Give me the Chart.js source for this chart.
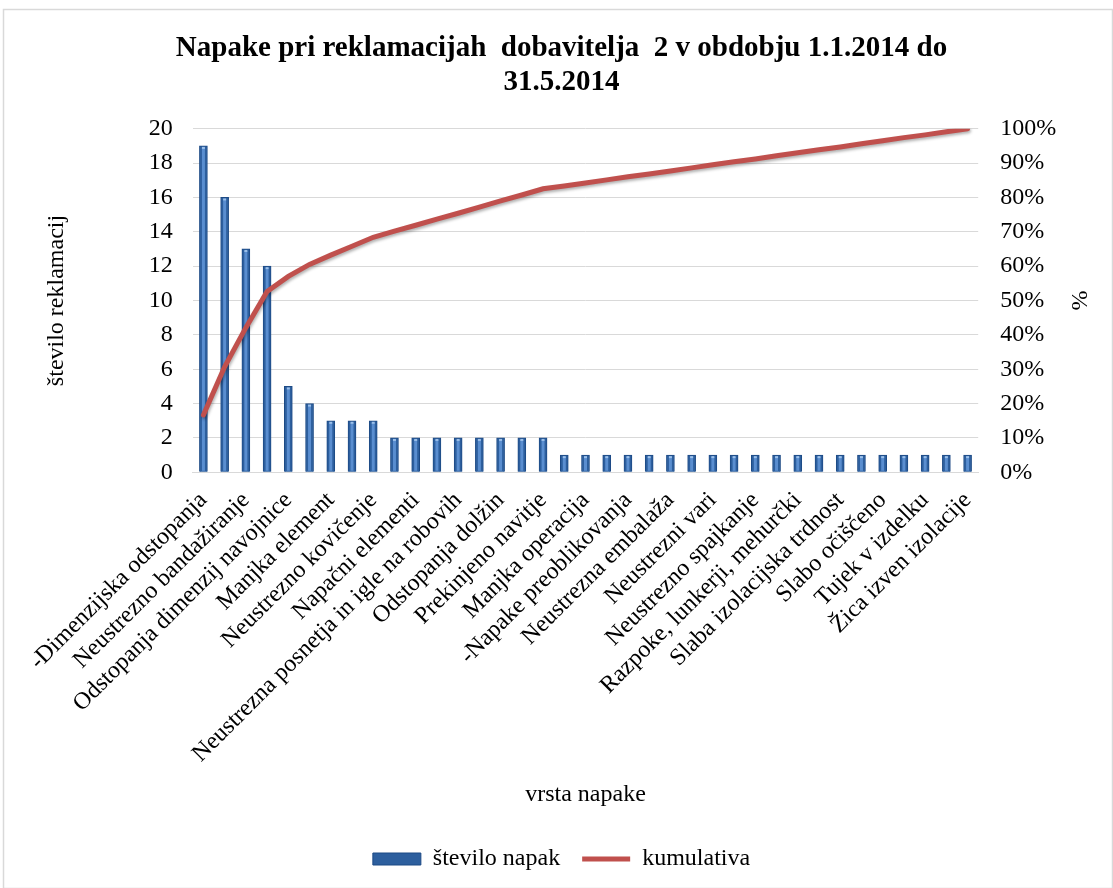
<!DOCTYPE html>
<html>
<head>
<meta charset="utf-8">
<script src="https://cdn.jsdelivr.net/npm/chart.js@4/dist/chart.umd.min.js"></script>
<style>
  body { margin: 0; background: #fff; }
  #wrap { width: 1113px; height: 888px; position: relative; }
</style>
</head>
<body>
<div id="wrap"><canvas id="myChart"></canvas></div>
<script>
// kategorije (vsaka druga oznaka je v izvirniku skrita, zato prazna)
let categories = [
  "-Dimenzijska odstopanja", "",
  "Neustrezno bandažiranje", "",
  "Odstopanja dimenzij navojnice", "",
  "Manjka element", "",
  "Neustrezno kovičenje", "",
  "Napačni elementi", "",
  "Neustrezna posnetja in igle na robovih", "",
  "Odstopanja dolžin", "",
  "Prekinjeno navitje", "",
  "Manjka operacija", "",
  "-Napake preoblikovanja", "",
  "Neustrezna embalaža", "",
  "Neustrezni vari", "",
  "Neustrezno spajkanje", "",
  "Razpoke, lunkerji, mehurčki", "",
  "Slaba izolacijska trdnost", "",
  "Slabo očiščeno", "",
  "Tujek v izdelku", "",
  "Žica izven izolacije"
]

// število napak
let steviloNapak = [19, 16, 13, 12, 5, 4, 3, 3, 3, 2, 2, 2, 2, 2, 2, 2, 2,
  1, 1, 1, 1, 1, 1, 1, 1, 1, 1, 1, 1, 1, 1, 1, 1, 1, 1, 1, 1]

// kumulativa v %
let kumulativa = [16.7, 30.7, 42.1, 52.6, 57.0, 60.5, 63.2, 65.8, 68.4, 70.2,
  71.9, 73.7, 75.4, 77.2, 79.0, 80.7, 82.5, 83.3, 84.2, 85.1, 86.0, 86.8,
  87.7, 88.6, 89.5, 90.4, 91.2, 92.1, 93.0, 93.9, 94.7, 95.6, 96.5, 97.4,
  98.2, 99.1, 100]

let titleLines = ["Napake pri reklamacijah  dobavitelja  2 v obdobju 1.1.2014 do", "31.5.2014"]

let serif = "'Liberation Serif', 'Times New Roman', serif"

// okvir okoli grafa + belo ozadje + senca pod črto + svetlejša sredina stolpcev
let framePlugin = {
  id: 'frame',
  beforeDraw(chart) {
    let ctx = chart.ctx
    ctx.save()
    ctx.fillStyle = '#fff'
    ctx.fillRect(0, 0, chart.width, chart.height)
    ctx.restore()
  },
  afterDraw(chart) {
    let ctx = chart.ctx
    ctx.save()
    ctx.strokeStyle = '#d9d9d9'
    ctx.lineWidth = 1.5
    ctx.strokeRect(3.5, 9.5, chart.width - 4, chart.height - 9)
    ctx.restore()
  },
  beforeDatasetDraw(chart, args) {
    if (args.index === 1) {
      chart.ctx.save()
      chart.ctx.shadowColor = 'rgba(0,0,0,0.3)'
      chart.ctx.shadowBlur = 3
      chart.ctx.shadowOffsetX = 1
      chart.ctx.shadowOffsetY = 2
    }
  },
  afterDatasetDraw(chart, args) {
    let ctx = chart.ctx
    if (args.index === 1) ctx.restore()
    if (args.index === 0) {
      ctx.save()
      chart.getDatasetMeta(0).data.forEach(bar => {
        ctx.fillStyle = '#5a8ed0'
        ctx.fillRect(bar.x - 1.5, bar.y + 2, 3, bar.base - bar.y - 3)
        ctx.fillStyle = '#9cc0ea'
        ctx.fillRect(bar.x - 1.5, bar.y + 1, 3, 2)
      })
      ctx.restore()
    }
  }
}

let data = {
  labels: categories,
  datasets: [{
    type: 'bar',
    label: 'število napak',
    data: steviloNapak,
    backgroundColor: '#2d5f9e',
    borderColor: '#1d4a85',
    borderWidth: 1,
    barThickness: 8,
    yAxisID: 'y',
    pointStyle: 'rect',
    order: 2
  }, {
    type: 'line',
    label: 'kumulativa',
    data: kumulativa,
    borderColor: '#c0504d',
    backgroundColor: '#c0504d',
    borderWidth: 5,
    borderCapStyle: 'round',
    pointRadius: 0,
    pointStyle: 'line',
    tension: 0,
    yAxisID: 'y1',
    order: 1
  }]
}

let config = {
  type: 'bar',
  data: data,
  plugins: [framePlugin],
  options: {
    responsive: true,
    maintainAspectRatio: false,
    animation: false,
    layout: { padding: { left: 20, right: 10, top: 10, bottom: 7 } },
    plugins: {
      title: {
        display: true,
        text: titleLines,
        color: '#000',
        font: { family: serif, size: 29, weight: 'bold', lineHeight: 1.15 },
        padding: { top: 22, bottom: 30 }
      },
      legend: {
        position: 'bottom',
        labels: {
          usePointStyle: true,
          pointStyleWidth: 48,
          boxHeight: 12,
          padding: 22,
          color: '#000',
          font: { family: serif, size: 24 },
          sort: (a, b) => a.datasetIndex - b.datasetIndex
        }
      },
      tooltip: { enabled: false }
    },
    scales: {
      x: {
        grid: { display: false },
        border: { color: '#d9d9d9' },
        ticks: {
          autoSkip: false,
          minRotation: 45,
          maxRotation: 45,
          padding: 6,
          color: '#000',
          font: { family: serif, size: 24 }
        },
        title: {
          display: true,
          text: 'vrsta napake',
          color: '#000',
          font: { family: serif, size: 24 },
          padding: { top: 6, bottom: 16 }
        }
      },
      y: {
        position: 'left',
        min: 0,
        max: 20,
        ticks: {
          stepSize: 2,
          padding: 20,
          color: '#000',
          font: { family: serif, size: 24 }
        },
        grid: { color: '#d9d9d9', drawTicks: false },
        border: { display: false },
        title: {
          display: true,
          text: 'število reklamacij',
          color: '#000',
          font: { family: serif, size: 24 },
          padding: { top: 22, bottom: 58 }
        }
      },
      y1: {
        position: 'right',
        min: 0,
        max: 100,
        ticks: {
          stepSize: 10,
          padding: 22,
          color: '#000',
          font: { family: serif, size: 24 },
          callback: v => v + '%'
        },
        grid: { display: false, drawTicks: false },
        border: { display: false },
        title: {
          display: true,
          text: '%',
          color: '#000',
          font: { family: serif, size: 24 },
          padding: { top: 10, bottom: -14 }
        }
      }
    }
  }
}

let myChart = new Chart(document.getElementById('myChart'), config)
</script>
</body>
</html>
